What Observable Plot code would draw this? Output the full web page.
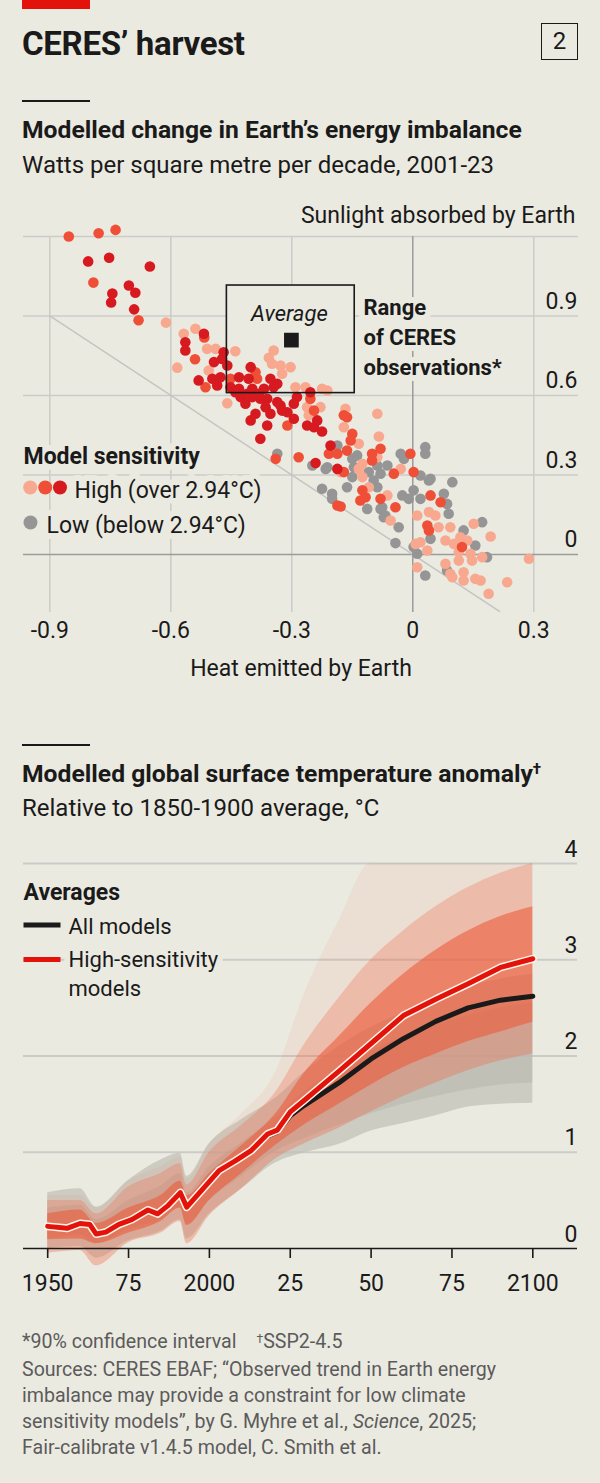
<!DOCTYPE html>
<html>
<head>
<meta charset="utf-8">
<script src="https://cdn.jsdelivr.net/npm/d3@7"></script>
<script src="https://cdn.jsdelivr.net/npm/@observablehq/plot@0.6"></script>
<style>
  html, body { margin: 0; padding: 0; background: #ebeae1; }
  #page { position: relative; width: 600px; height: 1483px; overflow: hidden;
          font-family: Roboto, "Noto Sans", sans-serif; color: #1a1a1a; }
  .abs { position: absolute; white-space: nowrap; line-height: 1; }
  .bar { left: 22px; top: 0; width: 68px; height: 9px; background: #e3120b; }
  .rule { left: 22px; width: 68px; height: 2px; background: #1a1a1a; }
  .title { left: 22px; font-size: 33px; font-weight: 700; letter-spacing: -0.3px; }
  .badge { left: 541px; top: 23px; width: 37px; height: 37px; box-sizing: border-box;
           border: 1.6px solid #1a1a1a; font-size: 24px; line-height: 34px; text-align: center; }
  .head { left: 22px; font-size: 24.7px; font-weight: 700; }
  .sub { left: 22px; font-size: 24px; }
  .dagger { font-size: 0.62em; position: relative; top: -0.55em; }
  .notes { left: 22px; top: 1329px; font-size: 19.6px; line-height: 26px; color: #5b5b5b; }
  .chart { position: absolute; left: 0; }
</style>
</head>
<body>
<div id="page">
  <div class="abs bar"></div>
  <div class="abs title" style="top:27px">CERES’ harvest</div>
  <div class="abs badge">2</div>

  <div class="abs rule" style="top:100px"></div>
  <div class="abs head" style="top:118px">Modelled change in Earth’s energy imbalance</div>
  <div class="abs sub" style="top:153px">Watts per square metre per decade, 2001-23</div>
  <div id="scatter" class="chart" style="top:200px"></div>

  <div class="abs rule" style="top:744px"></div>
  <div class="abs head" style="top:762px">Modelled global surface temperature anomaly<span class="dagger">†</span></div>
  <div class="abs sub" style="top:796px">Relative to 1850-1900 average, °C</div>
  <div id="temps" class="chart" style="top:840px"></div>

  <div class="abs notes">*90% confidence interval<span style="margin-left:20px"><span class="dagger" style="top:-0.45em">†</span>SSP2-4.5</span><br>Sources: CERES EBAF; “Observed trend in Earth energy<br>imbalance may provide a constraint for low climate<br>sensitivity models”, by G. Myhre et al., <i>Science</i>, 2025;<br>Fair-calibrate v1.4.5 model, C. Smith et al.</div>
</div>

<script>
// ---------- Chart 1: modelled trends, [heat emitted, sunlight absorbed] in W/m² per decade ----------
const heatTicks = [-0.9, -0.6, -0.3, 0, 0.3];
const heatTickLabels = ["-0.9", "-0.6", "-0.3", "0", "0.3"];
const sunTicks = [0, 0.3, 0.6, 0.9];
const sunTickLabels = ["0", "0.3", "0.6", "0.9"];
const heatGrid = [-0.9, -0.6, -0.3, 0.3];
const sunGrid = [0.3, 0.6, 0.9, 1.2];
const balanceEnds = [-0.9, 0.215];   // net-zero line: sunlight = -heat

// CERES observations: mean and 90% range
const ceresHeat = [-0.461, -0.301, -0.144];
const ceresSun = [0.609, 0.809, 1.015];

// Low-sensitivity models (below 2.94°C)
const lowSens = [
  [-0.187,0.411],[-0.138,0.374],[-0.097,0.374],[-0.336,0.380],[-0.212,0.329],[-0.146,0.329],
  [-0.063,0.336],[-0.030,0.380],[0.031,0.405],[0.031,0.380],[-0.080,0.305],[0.019,0.298],
  [-0.022,0.361],[0.044,0.286],[0.040,0.279],[0.098,0.273],[0.002,0.242],[-0.026,0.223],
  [-0.010,0.210],[0.019,0.210],[0.077,0.229],[0.085,0.191],[0.089,0.154],[-0.076,0.178],
  [-0.068,0.147],[-0.035,0.103],[0.044,0.059],[0.126,0.091],[0.172,0.122],[-0.043,0.043],
  [0.011,0.003],[0.155,0.034],[0.184,-0.010],[0.085,-0.060],[0.031,-0.079],[0.002,0.028],
  [-0.150,0.361],[-0.109,0.311],[-0.088,0.336],[-0.216,0.323],[-0.249,0.336],[-0.225,0.248],
  [-0.200,0.229],[-0.200,0.210],[-0.163,0.254],[-0.150,0.292],[-0.097,0.279],[-0.088,0.254],
  [-0.080,0.172],[-0.113,0.172],[-0.072,0.141]
];

// High-sensitivity models (over 2.94°C), in three shades
const highLight = [
  [-0.612,0.875],[-0.584,0.705],[-0.568,0.833],[-0.539,0.852],[-0.510,0.776],[-0.489,0.776],
  [-0.440,0.767],[-0.506,0.694],[-0.357,0.742],[-0.345,0.770],[-0.349,0.720],[-0.328,0.713],
  [-0.324,0.682],[-0.303,0.707],[-0.460,0.571],[-0.291,0.631],[-0.266,0.631],[-0.225,0.625],
  [-0.212,0.619],[-0.262,0.556],[-0.229,0.556],[-0.258,0.525],[-0.167,0.550],[-0.171,0.480],
  [-0.088,0.531],[-0.084,0.445],[-0.134,0.418],[-0.125,0.342],[-0.030,0.323],[-0.179,0.311],
  [-0.088,0.367],[-0.134,0.323],[-0.125,0.292],[-0.109,0.254],[-0.063,0.223],[-0.055,0.128],
  [0.011,0.147],[0.040,0.160],[0.056,0.147],[0.064,0.103],[0.093,0.103],[0.151,0.116],
  [0.193,0.068],[0.007,0.040],[0.019,0.046],[0.036,0.015],[0.081,0.053],[0.102,0.040],
  [0.118,0.065],[0.135,0.053],[0.114,0.009],[0.143,0.003],[0.172,-0.010],[0.147,-0.023],
  [0.114,-0.023],[0.081,-0.035],[0.093,-0.073],[0.126,-0.067],[0.126,-0.098],[0.155,-0.092],
  [0.168,-0.098],[0.188,-0.148],[0.234,-0.105],[0.288,-0.016],[0.011,-0.048],[0.098,-0.086]
];
const highMid = [
  [-0.853,1.200],[-0.779,1.212],[-0.737,1.225],[-0.792,1.026],[-0.680,0.884],[-0.540,0.737],
  [-0.517,0.819],[-0.514,0.631],[-0.452,0.663],[-0.390,0.688],[-0.386,0.663],[-0.311,0.487],
  [-0.254,0.588],[-0.245,0.543],[-0.171,0.525],[-0.163,0.518],[-0.150,0.455],[-0.154,0.430],
  [-0.208,0.380],[-0.187,0.380],[-0.163,0.392],[-0.080,0.399],[-0.101,0.355],[-0.340,0.361],
  [-0.283,0.367],[-0.171,0.311],[-0.006,0.380],[-0.047,0.305],[0.002,0.311],[0.044,0.223],
  [0.069,0.197],[-0.043,0.178],[-0.080,0.210],[0.036,0.109],[0.040,0.091],[0.122,0.028],
  [-0.101,0.380],[-0.187,0.185],[-0.179,0.181],[-0.125,0.242],[-0.117,0.216],[-0.130,0.204]
];
const highDark = [
  [-0.805,1.106],[-0.753,1.120],[-0.652,1.087],[-0.745,0.985],[-0.704,1.015],[-0.688,0.988],
  [-0.748,0.951],[-0.691,0.925],[-0.518,0.833],[-0.564,0.801],[-0.564,0.770],[-0.469,0.763],
  [-0.493,0.726],[-0.473,0.738],[-0.460,0.713],[-0.497,0.663],[-0.477,0.669],[-0.531,0.657],
  [-0.485,0.638],[-0.431,0.669],[-0.407,0.663],[-0.402,0.707],[-0.452,0.631],[-0.431,0.625],
  [-0.398,0.625],[-0.353,0.663],[-0.336,0.644],[-0.345,0.631],[-0.369,0.625],[-0.427,0.594],
  [-0.415,0.569],[-0.398,0.594],[-0.378,0.588],[-0.361,0.588],[-0.411,0.606],[-0.382,0.606],
  [-0.440,0.612],[-0.336,0.575],[-0.328,0.562],[-0.311,0.537],[-0.324,0.543],[-0.365,0.556],
  [-0.353,0.531],[-0.390,0.531],[-0.402,0.506],[-0.361,0.487],[-0.295,0.512],[-0.295,0.569],
  [-0.287,0.594],[-0.254,0.612],[-0.237,0.506],[-0.262,0.487],[-0.245,0.480],[-0.225,0.464],
  [-0.378,0.437],[-0.204,0.411],[-0.241,0.345],[-0.187,0.323]
];

// ---------- Chart 2: global surface temperature anomaly, °C ----------
const yearTicks = [1950, 1975, 2000, 2025, 2050, 2075, 2100];
const yearTickLabels = ["1950", "75", "2000", "25", "50", "75", "2100"];
const tempTicks = [0, 1, 2, 3, 4];
const tempGrid = [1, 2, 3, 4];

const meanYears = [1950, 1956, 1960, 1963, 1965, 1968, 1972, 1976, 1981, 1984, 1987, 1991, 1993, 1998,
                   2003, 2008, 2013, 2018, 2021, 2025, 2029, 2040, 2050, 2060, 2070, 2080, 2090, 2100];
const meanHigh = [0.23, 0.21, 0.26, 0.25, 0.15, 0.17, 0.25, 0.30, 0.40, 0.36, 0.44, 0.58, 0.43, 0.62,
                  0.81, 0.91, 1.02, 1.19, 1.23, 1.42, 1.53, 1.84, 2.13, 2.42, 2.59, 2.75, 2.92, 3.01];
const meanAll  = [0.22, 0.20, 0.25, 0.24, 0.14, 0.16, 0.24, 0.29, 0.39, 0.35, 0.43, 0.57, 0.42, 0.61,
                  0.80, 0.90, 1.01, 1.17, 1.21, 1.38, 1.48, 1.72, 1.97, 2.18, 2.36, 2.50, 2.58, 2.62];

// Spread of the model ensembles
const bandYears = [1950, 1960, 1965, 1975, 1985, 1991, 1993, 2000, 2010, 2020, 2030, 2040, 2050, 2060, 2070, 2080, 2090, 2100];
const highOuterLow    = [-0.05, -0.02, -0.18, 0.06, 0.16, 0.28, 0.05, 0.34, 0.62, 0.92, 1.10, 1.25, 1.42, 1.58, 1.72, 1.85, 1.95, 2.02];
const highOuterHigh   = [0.50, 0.50, 0.36, 0.64, 0.78, 0.88, 0.66, 1.00, 1.28, 1.60, 2.15, 2.60, 3.00, 3.30, 3.55, 3.75, 3.90, 4.00];
const highExtremeHigh = [0.55, 0.55, 0.42, 0.70, 0.85, 0.95, 0.72, 1.08, 1.40, 1.80, 2.70, 3.40, 4.00, 4.00, 4.00, 4.00, 4.00, 4.00];
const highInnerLow    = [0.09, 0.10, 0.05, 0.16, 0.28, 0.42, 0.24, 0.50, 0.78, 1.06, 1.30, 1.50, 1.70, 1.88, 2.02, 2.15, 2.25, 2.35];
const highInnerHigh   = [0.36, 0.40, 0.26, 0.42, 0.55, 0.70, 0.55, 0.78, 1.07, 1.38, 1.85, 2.20, 2.55, 2.85, 3.10, 3.30, 3.45, 3.55];
const lowOuterLow     = [0.00, 0.02, -0.10, 0.08, 0.18, 0.30, 0.10, 0.36, 0.62, 0.88, 1.00, 1.08, 1.22, 1.30, 1.38, 1.47, 1.50, 1.51];
const lowOuterHigh    = [0.58, 0.62, 0.43, 0.71, 0.92, 0.99, 0.75, 1.09, 1.34, 1.55, 1.85, 2.10, 2.30, 2.45, 2.60, 2.72, 2.80, 2.85];
const lowInnerLow     = [0.10, 0.14, 0.05, 0.20, 0.30, 0.42, 0.25, 0.50, 0.75, 1.00, 1.15, 1.28, 1.40, 1.50, 1.58, 1.65, 1.70, 1.72];
const lowInnerHigh    = [0.42, 0.45, 0.30, 0.50, 0.65, 0.78, 0.58, 0.85, 1.10, 1.35, 1.65, 1.85, 2.05, 2.20, 2.32, 2.42, 2.50, 2.55];

// ---------- styling ----------
const bg = "#ebeae1";
const ink = "#1a1a1a";
const gridGrey = "#cbcbc9";
const zeroGrey = "#9b9b9b";
const shadeDark = "#d71a20", shadeMid = "#ef4f37", shadeLight = "#f8a88e", shadeGrey = "#959595";
const red = "#e3120b";
const halo = {fill: ink, stroke: bg, strokeWidth: 12, strokeLinejoin: "round", paintOrder: "stroke"};
const font = {fontFamily: "Roboto, 'Noto Sans', sans-serif", color: ink, background: "transparent", overflow: "visible"};

const toRows = pairs => pairs.map(([heat, sun]) => ({heat, sun}));
const ceres = {heatLow: ceresHeat[0], heatMean: ceresHeat[1], heatHigh: ceresHeat[2],
               sunLow: ceresSun[0], sunMean: ceresSun[1], sunHigh: ceresSun[2]};

const scatter = Plot.plot({
  width: 600, height: 490,
  marginTop: 36, marginRight: 22, marginBottom: 78, marginLeft: 23,
  x: {domain: [-0.9653, 0.4109], axis: null, label: null},
  y: {domain: [-0.2189, 1.2], axis: null, label: null},
  style: font,
  marks: [
    Plot.ruleY(sunGrid, {stroke: gridGrey, strokeWidth: 1.5}),
    Plot.ruleX(heatGrid, {stroke: gridGrey, strokeWidth: 1.5}),
    Plot.ruleY([0], {stroke: zeroGrey, strokeWidth: 1.5}),
    Plot.ruleX([0], {stroke: zeroGrey, strokeWidth: 1.5}),
    Plot.line(balanceEnds.map(h => ({heat: h, sun: -h})), {x: "heat", y: "sun", stroke: "#c4c4c2", strokeWidth: 1.5}),

    // legend
    Plot.text(["Model sensitivity"], {frameAnchor: "top-left", dy: 227, lineAnchor: "bottom", textAnchor: "start", fontSize: 23, fontWeight: 700, ...halo}),
    Plot.text(["High (over 2.94°C)"], {frameAnchor: "top-left", dx: 51, dy: 261, lineAnchor: "bottom", textAnchor: "start", fontSize: 23, ...halo}),
    Plot.text(["Low (below 2.94°C)"], {frameAnchor: "top-left", dx: 23, dy: 296, lineAnchor: "bottom", textAnchor: "start", fontSize: 23, ...halo}),
    Plot.dot([0], {frameAnchor: "top-left", dx: 6.7, dy: 251, r: 7, fill: shadeLight}),
    Plot.dot([0], {frameAnchor: "top-left", dx: 21.7, dy: 251, r: 7, fill: shadeMid}),
    Plot.dot([0], {frameAnchor: "top-left", dx: 36.5, dy: 251, r: 7, fill: shadeDark}),
    Plot.dot([0], {frameAnchor: "top-left", dx: 7, dy: 286, r: 7, fill: shadeGrey}),

    // CERES range label
    Plot.text(["Range\nof CERES\nobservations*"], {frameAnchor: "top-left", dx: 340, dy: 57.4, lineAnchor: "top", textAnchor: "start", lineHeight: 1.36, fontSize: 22, fontWeight: 700, ...halo}),

    // observed range box (fill under the model dots)
    Plot.rect([ceres], {x1: "heatLow", x2: "heatHigh", y1: "sunLow", y2: "sunHigh", fill: bg}),

    // models
    Plot.dot(toRows(lowSens), {x: "heat", y: "sun", r: 5.3, fill: shadeGrey}),
    Plot.dot(toRows(highLight), {x: "heat", y: "sun", r: 5.3, fill: shadeLight}),
    Plot.dot(toRows(highMid), {x: "heat", y: "sun", r: 5.3, fill: shadeMid}),
    Plot.dot(toRows(highDark), {x: "heat", y: "sun", r: 5.3, fill: shadeDark}),

    Plot.rect([ceres], {x1: "heatLow", x2: "heatHigh", y1: "sunLow", y2: "sunHigh", fill: "none", stroke: ink, strokeWidth: 1.6}),
    Plot.text([ceres], {x: "heatMean", y: "sunHigh", dy: 35, dx: -2, text: () => "Average", lineAnchor: "bottom", fontSize: 22, fontStyle: "italic"}),
    Plot.dot([ceres], {x: "heatMean", y: "sunMean", symbol: "square", r: 8.3, fill: ink}),

    // axes
    Plot.text(sunTicks, {y: d => d, text: (d, i) => sunTickLabels[i], frameAnchor: "right", textAnchor: "end", lineAnchor: "bottom", dx: -1, dy: -7, fontSize: 23}),
    Plot.text(heatTicks, {x: d => d, text: (d, i) => heatTickLabels[i], frameAnchor: "bottom", lineAnchor: "bottom", dy: 25, fontSize: 23}),
    Plot.text(["Sunlight absorbed by Earth"], {frameAnchor: "top-right", textAnchor: "end", lineAnchor: "bottom", dx: -3, dy: -14, fontSize: 23}),
    Plot.text(["Heat emitted by Earth"], {frameAnchor: "bottom", lineAnchor: "bottom", dy: 63, fontSize: 23})
  ]
});
document.getElementById("scatter").append(scatter);

// ---------- temperature chart ----------
const bands = bandYears.map((year, i) => ({
  year,
  highOuterLow: highOuterLow[i], highOuterHigh: highOuterHigh[i], highExtremeHigh: highExtremeHigh[i],
  highInnerLow: highInnerLow[i], highInnerHigh: highInnerHigh[i],
  lowOuterLow: lowOuterLow[i], lowOuterHigh: lowOuterHigh[i],
  lowInnerLow: lowInnerLow[i], lowInnerHigh: lowInnerHigh[i]
}));
const means = meanYears.map((year, i) => ({year, high: meanHigh[i], all: meanAll[i]}));
const yearLabel = new Map(yearTicks.map((y, i) => [y, yearTickLabels[i]]));
const swatch = {draw(context) { context.rect(-18.5, -2.6, 37, 5.2); }};

const temps = Plot.plot({
  width: 600, height: 460,
  marginTop: 23, marginRight: 23, marginBottom: 52, marginLeft: 23,
  x: {domain: [1942.52, 2113.82], axis: null, label: null},
  y: {domain: [0, 4], axis: null, label: null},
  style: font,
  marks: [
    Plot.ruleY(tempGrid, {stroke: gridGrey, strokeWidth: 2}),

    // legend
    Plot.text(["Averages"], {frameAnchor: "top-left", dy: 36, lineAnchor: "bottom", textAnchor: "start", fontSize: 23, fontWeight: 700, fill: ink}),
    Plot.dot([0], {frameAnchor: "top-left", dx: 18.5, dy: 61.5, symbol: swatch, fill: ink, stroke: "none"}),
    Plot.text(["All models"], {frameAnchor: "top-left", dx: 45, dy: 70, lineAnchor: "bottom", textAnchor: "start", fontSize: 22, ...halo}),
    Plot.text(["High-sensitivity\nmodels"], {frameAnchor: "top-left", dx: 45, dy: 82.5, lineAnchor: "top", textAnchor: "start", lineHeight: 1.34, fontSize: 22, ...halo}),
    Plot.dot([0], {frameAnchor: "top-left", dx: 18.5, dy: 96, symbol: swatch, fill: red, stroke: "none"}),

    // ensemble spread: low-sensitivity models underneath, high-sensitivity on top
    Plot.areaY(bands, {x: "year", y1: "lowOuterLow", y2: "lowOuterHigh", fill: "#c3c1b8", fillOpacity: 0.75, curve: "monotone-x"}),
    Plot.areaY(bands, {x: "year", y1: "lowInnerLow", y2: "lowInnerHigh", fill: "#b4b1a9", fillOpacity: 0.45, curve: "monotone-x"}),
    Plot.areaY(bands, {x: "year", y1: "highOuterLow", y2: "highExtremeHigh", fill: "#f07a5c", fillOpacity: 0.1, curve: "monotone-x"}),
    Plot.areaY(bands, {x: "year", y1: "highOuterLow", y2: "highOuterHigh", fill: "#f06a48", fillOpacity: 0.3, curve: "monotone-x"}),
    Plot.areaY(bands, {x: "year", y1: "highInnerLow", y2: "highInnerHigh", fill: "#ec5634", fillOpacity: 0.55, curve: "monotone-x"}),

    // averages
    Plot.line(means, {x: "year", y: "all", stroke: ink, strokeWidth: 5, strokeLinejoin: "round"}),
    Plot.line(means, {x: "year", y: "high", stroke: "#fff6ea", strokeWidth: 8, strokeLinejoin: "round"}),
    Plot.line(means, {x: "year", y: "high", stroke: red, strokeWidth: 5, strokeLinejoin: "round"}),

    // axes
    Plot.ruleY([0], {stroke: ink, strokeWidth: 1.6}),
    Plot.axisX(yearTicks, {tickSize: 10, tickPadding: 16, tickFormat: d => yearLabel.get(d), fontSize: 23, strokeWidth: 1.6}),
    Plot.text(tempTicks, {y: d => d, text: d => String(d), frameAnchor: "right", textAnchor: "end", lineAnchor: "bottom", dy: -7, fontSize: 23})
  ]
});
document.getElementById("temps").append(temps);
</script>
</body>
</html>
